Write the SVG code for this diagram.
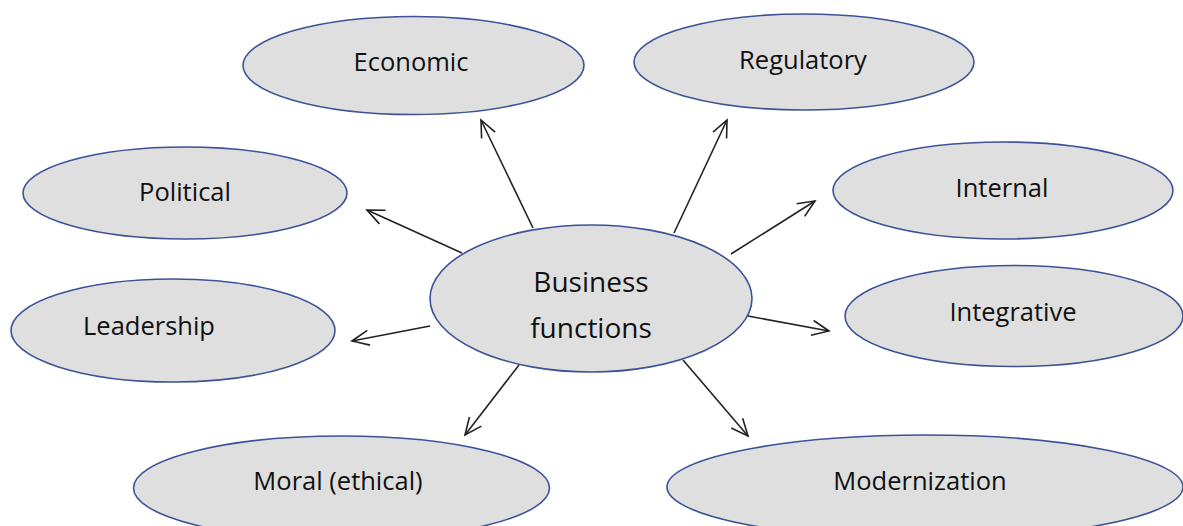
<svg xmlns="http://www.w3.org/2000/svg" width="1183" height="526" viewBox="0 0 1183 526">
<defs>
<style>
.node ellipse{fill:#dfdfdf;stroke:#3d5297;stroke-width:1.6}
.node text{font-family:"Open Sans","Liberation Sans",sans-serif;font-size:25.5px;fill:#111;text-anchor:middle}
.conn line{stroke:#222;stroke-width:1.6;marker-end:url(#ah)}
</style>
<marker id="ah" markerUnits="userSpaceOnUse" markerWidth="22" markerHeight="22" viewBox="0 0 22 22" refX="20" refY="11" orient="auto">
<path d="M3,3.5 L20,11 L3,18.5" fill="none" stroke="#222" stroke-width="1.6"/>
</marker>
</defs>
<rect width="1183" height="526" fill="#fff"/>
<g id="economic" class="node"><ellipse cx="413.5" cy="65.5" rx="170.5" ry="49"/><text x="411" y="71">Economic</text></g>
<g id="regulatory" class="node"><ellipse cx="804" cy="62" rx="170" ry="48"/><text x="803" y="69">Regulatory</text></g>
<g id="political" class="node"><ellipse cx="185" cy="193" rx="162" ry="46"/><text x="185" y="201">Political</text></g>
<g id="internal" class="node"><ellipse cx="1003" cy="190.5" rx="170" ry="48.5"/><text x="1002" y="197">Internal</text></g>
<g id="leadership" class="node"><ellipse cx="173" cy="330.5" rx="162" ry="51.5"/><text x="149" y="335">Leadership</text></g>
<g id="integrative" class="node"><ellipse cx="1014" cy="316" rx="169" ry="50.5"/><text x="1013" y="321">Integrative</text></g>
<g id="moral" class="node"><ellipse cx="341.5" cy="488" rx="208" ry="52"/><text x="338" y="490">Moral (ethical)</text></g>
<g id="modernization" class="node"><ellipse cx="925" cy="487" rx="258" ry="52"/><text x="920" y="490">Modernization</text></g>
<g id="business" class="node"><ellipse cx="591" cy="298.5" rx="161" ry="73.5"/><text x="591" y="292" style="font-size:28px">Business</text><text x="591" y="338" style="font-size:28px">functions</text></g>
<g id="connectors" class="conn">
<line x1="533" y1="228" x2="481" y2="120"/>
<line x1="674" y1="233" x2="727" y2="120"/>
<line x1="731" y1="254" x2="815" y2="201"/>
<line x1="748" y1="316" x2="829" y2="331"/>
<line x1="683" y1="360" x2="748" y2="436"/>
<line x1="519" y1="365" x2="465" y2="435"/>
<line x1="462" y1="253" x2="367" y2="210"/>
<line x1="430" y1="326" x2="352" y2="341"/>
</g>
</svg>
